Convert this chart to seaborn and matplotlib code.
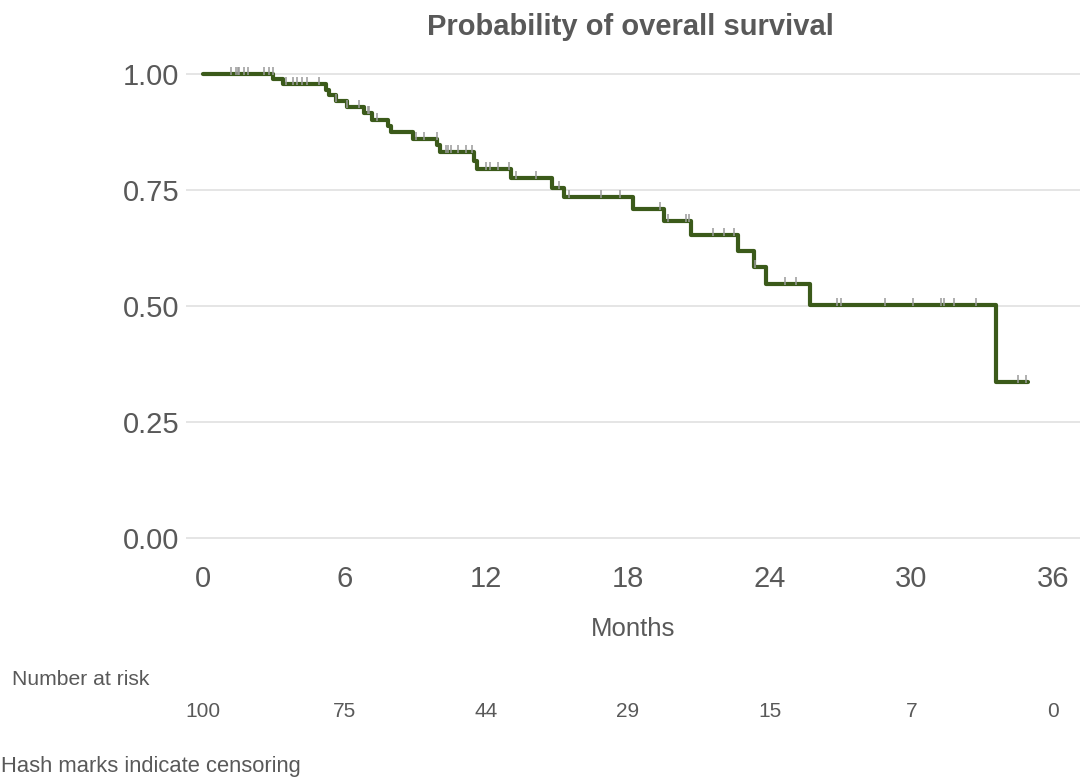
import numpy as np
import pandas as pd
import matplotlib
matplotlib.use("Agg")
import matplotlib.pyplot as plt
from matplotlib.path import Path
from matplotlib.transforms import blended_transform_factory
import seaborn as sns

# ---- data ----
step_times = [0.0, 2.98, 3.40, 5.21, 5.35, 5.64, 6.09, 6.80, 7.15, 7.85, 7.98,
              8.91, 9.93, 10.04, 11.50, 11.62, 13.05, 14.77, 15.31, 18.20,
              19.53, 20.68, 22.65, 23.36, 23.84, 25.72, 33.60, 34.94]
step_surv = [1.000, 0.990, 0.979, 0.966, 0.954, 0.941, 0.928, 0.915, 0.901, 0.888, 0.874,
             0.859, 0.846, 0.832, 0.813, 0.796, 0.776, 0.755, 0.734, 0.709,
             0.683, 0.653, 0.619, 0.584, 0.548, 0.502, 0.336, 0.336]
censor_times = [1.17, 1.40, 1.47, 1.54, 1.74, 1.90, 2.58, 2.80, 2.95, 3.52, 3.80,
                4.00, 4.19, 4.42, 4.92, 5.64, 6.09, 6.62, 7.00, 7.05, 7.36, 9.03,
                9.36, 9.90, 10.30, 10.37, 10.51, 10.82, 11.14, 11.38, 12.00, 12.16,
                12.49, 12.97, 13.25, 14.11, 15.07, 15.50, 16.84, 17.66, 19.36, 19.70,
                20.47, 20.60, 21.60, 22.06, 22.50, 23.40, 24.66, 25.13, 26.85, 27.02,
                28.90, 30.07, 31.26, 31.37, 31.82, 32.75, 34.52, 34.87]
x_ticks = [0, 6, 12, 18, 24, 30, 36]
y_ticks = [0.00, 0.25, 0.50, 0.75, 1.00]
y_tick_labels = ["0.00", "0.25", "0.50", "0.75", "1.00"]
at_risk = [100, 75, 44, 29, 15, 7, 0]

title = "Probability of overall survival"
x_label = "Months"
risk_label = "Number at risk"
footnote = "Hash marks indicate censoring"

# ---- style ----
sns.set_theme(style="white")
plt.rcParams["font.family"] = ["Liberation Sans", "DejaVu Sans"]
TXT = "#595959"
LINE = "#3b5a1a"
GRID = "#dedede"

fig = plt.figure(figsize=(10.8, 7.78), dpi=100)
ax_bottom_px, ax_top_px = 561.2, 50.8
ax = fig.add_axes([186 / 1080, 1 - ax_bottom_px / 778, 1 - 186 / 1080,
                   (ax_bottom_px - ax_top_px) / 778])

df = pd.DataFrame({"t": step_times, "s": step_surv})
sns.lineplot(data=df, x="t", y="s", drawstyle="steps-post", estimator=None,
             color=LINE, linewidth=3.0, ax=ax, zorder=3)

# censor marks: survival value at each censor time
st = np.array(step_times)
ss = np.array(step_surv)
cens_s = [ss[np.searchsorted(st, c, side="right") - 1] for c in censor_times]
cdf = pd.DataFrame({"t": censor_times, "s": cens_s})
tick_marker = Path([(0, -0.15), (0, 1.0)], [Path.MOVETO, Path.LINETO])
sns.scatterplot(data=cdf, x="t", y="s", marker=tick_marker, s=95,
                color="#9a9a9a", edgecolor="#9a9a9a", linewidth=1.1, ax=ax, zorder=4)

ax.set_xlim(-0.72, 37.15)
ax.set_ylim(-0.05, 1.05)
ax.set_xticks(x_ticks)
ax.set_xticklabels([str(v) for v in x_ticks])
ax.set_yticks(y_ticks)
ax.set_yticklabels(y_tick_labels)
ax.tick_params(axis="both", length=0, labelsize=21, labelcolor=TXT)
ax.tick_params(axis="x", pad=3)
ax.tick_params(axis="y", pad=5)
ax.grid(False)
ax.yaxis.grid(True, color=GRID, linewidth=1.1)
ax.set_axisbelow(True)
for sp in ax.spines.values():
    sp.set_visible(False)
ax.set_xlabel(x_label, fontsize=18.5, color=TXT, va="baseline")
ax.xaxis.set_label_coords(0.5, (ax_bottom_px - 636) / (ax_bottom_px - ax_top_px))
ax.set_ylabel("")

fig.text(630 / 1080, 1 - 35 / 778, title, ha="center", va="baseline",
         fontsize=21, fontweight="bold", color=TXT)

fig.text(12 / 1080, 1 - 685 / 778, risk_label, ha="left", va="baseline",
         fontsize=15.2, color=TXT)
trans = blended_transform_factory(ax.transData, fig.transFigure)
for xv, n in zip(x_ticks, at_risk):
    ax.text(xv, 1 - 717 / 778, str(n), transform=trans, ha="center", va="baseline",
            fontsize=15, color=TXT, clip_on=False)
fig.text(1 / 1080, 1 - 772 / 778, footnote, ha="left", va="baseline",
         fontsize=15.8, color=TXT)

fig.savefig("out.png", dpi=100)
